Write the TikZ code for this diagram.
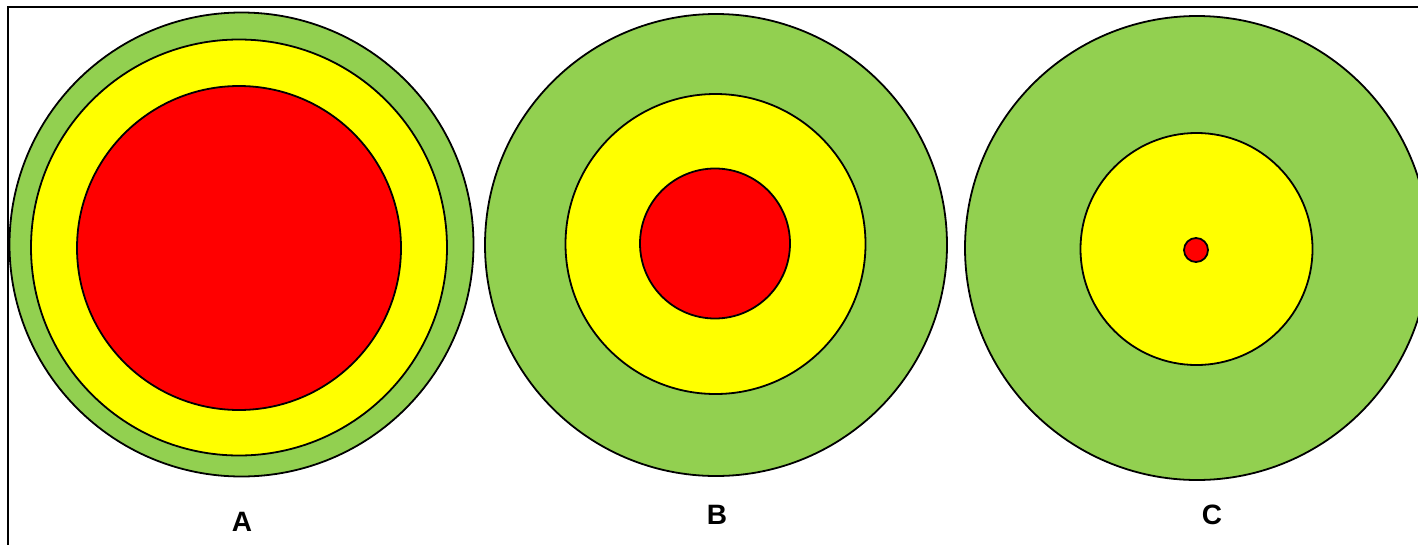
\documentclass[tikz,border=0pt]{standalone}
\usepackage{fontspec}
\setmainfont{Liberation Sans}
\definecolor{lgreen}{HTML}{92D050}
\definecolor{lyellow}{HTML}{FFFF00}
\definecolor{lred}{HTML}{FF0000}
\begin{document}
\begin{tikzpicture}[x=1pt,y=-1pt,
  ring/.style={draw=black,line width=1.8pt},
  lab/.style={font=\fontsize{28}{30}\selectfont\bfseries,inner sep=0pt}]
\useasboundingbox (0,0) rectangle (1418,544);
\fill[white] (0,0) rectangle (1418,544);
\draw[line width=2pt] (8,550) -- (8,6.5) -- (1425,6.5);
% A
\draw[ring,fill=lgreen] (241.5,244.5) circle (232);
\draw[ring,fill=lyellow] (239,247.5) circle (208);
\draw[ring,fill=lred] (239,248) circle (162);
% B
\draw[ring,fill=lgreen] (716,245) circle (231);
\draw[ring,fill=lyellow] (715.5,244) circle (150);
\draw[ring,fill=lred] (715,243.5) circle (75);
% C
\draw[ring,fill=lgreen] (1197,248) circle (232);
\draw[ring,fill=lyellow] (1196.5,249) circle (116);
\draw[ring,fill=lred] (1196,250) circle (12);
\node[lab] (la) at (242,522) {A};
\node[lab] (lb) at (717,515) {B};
\node[lab] (lc) at (1212,515) {C};
\end{tikzpicture}
\end{document}
